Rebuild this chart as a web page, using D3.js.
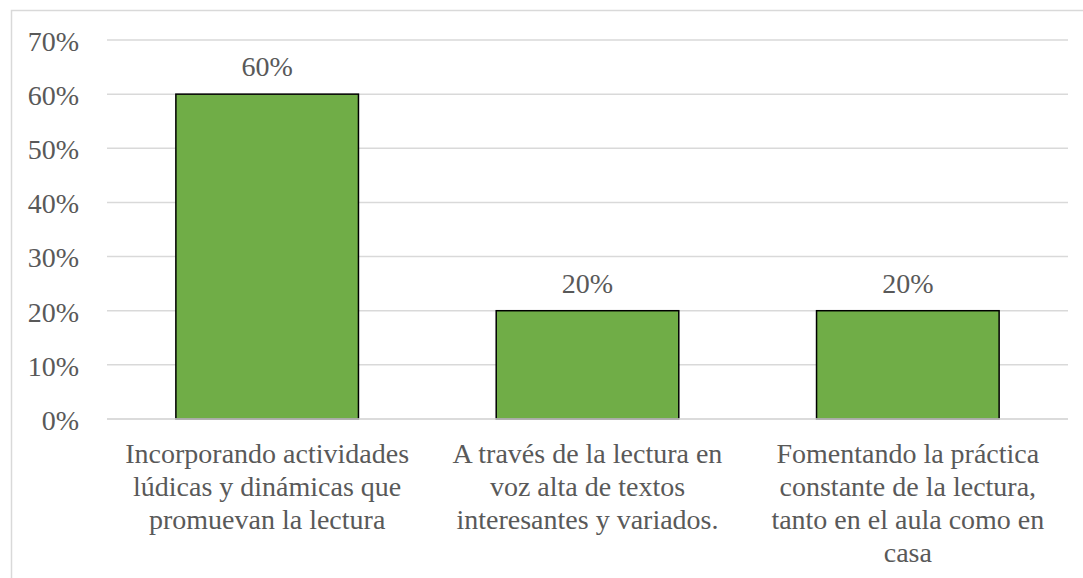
<!DOCTYPE html>
<html>
<head>
<meta charset="utf-8">
<script src="https://cdn.jsdelivr.net/npm/d3@7"></script>
</head>
<body style="margin:0">
<script>
// ----- data -----
var categories = [
  ["Incorporando actividades", "lúdicas y dinámicas que", "promuevan la lectura"],
  ["A través de la lectura en", "voz alta de textos", "interesantes y variados."],
  ["Fomentando la práctica", "constante de la lectura,", "tanto en el aula como en", "casa"]
];
var values = [0.60, 0.20, 0.20];
var tickValues = [0, 0.1, 0.2, 0.3, 0.4, 0.5, 0.6, 0.7];

var width = 1083, height = 578;
var margin = {top: 40, left: 107, right: 15, bottom: 159};
var textColor = "#595959";
var fontSize = "28px";
var serif = "'Times New Roman'";

var svg = d3.select("body").append("svg")
  .attr("width", width)
  .attr("height", height);

// outer chart border (runs off the right and bottom edge)
svg.append("rect")
  .attr("x", 11.5).attr("y", 10.5)
  .attr("width", width + 20).attr("height", height + 20)
  .attr("fill", "none")
  .attr("stroke", "#d9d9d9")
  .attr("stroke-width", 1.5);

var x = d3.scaleBand()
  .domain(d3.range(values.length))
  .range([margin.left, width - margin.right])
  .paddingInner(0.43)
  .paddingOuter(0.215);

var y = d3.scaleLinear()
  .domain([0, 0.7])
  .range([height - margin.bottom, margin.top]);

// gridlines
svg.append("g")
  .selectAll("line")
  .data(tickValues)
  .join("line")
  .attr("x1", margin.left)
  .attr("x2", width - margin.right)
  .attr("y1", d => y(d))
  .attr("y2", d => y(d))
  .attr("stroke", "#d9d9d9")
  .attr("stroke-width", 1.5);

// y axis labels
var yAxis = d3.axisLeft(y)
  .tickValues(tickValues)
  .tickFormat(d3.format(".0%"))
  .tickSize(0)
  .tickPadding(28);

var yg = svg.append("g")
  .attr("transform", "translate(" + margin.left + ",0)")
  .call(yAxis);
yg.select(".domain").remove();
yg.attr("font-family", null).attr("font-size", null);
yg.selectAll("text")
  .style("font-family", serif)
  .attr("font-size", fontSize)
  .attr("fill", textColor)
  .attr("dy", "0.37em");

// bars
svg.append("g")
  .selectAll("rect")
  .data(values)
  .join("rect")
  .attr("x", (d, i) => x(i))
  .attr("y", d => y(d))
  .attr("width", x.bandwidth())
  .attr("height", d => y(0) - y(d))
  .attr("fill", "#70ad47")
  .attr("stroke", "#000000")
  .attr("stroke-width", 1.5);

// baseline redraw over bar bottoms
svg.append("line")
  .attr("x1", margin.left).attr("x2", width - margin.right)
  .attr("y1", y(0)).attr("y2", y(0))
  .attr("stroke", "#d9d9d9")
  .attr("stroke-width", 1.5);

// data labels
svg.selectAll("text.val")
  .data(values)
  .join("text")
  .attr("class", "val")
  .attr("x", (d, i) => x(i) + x.bandwidth() / 2)
  .attr("y", d => y(d) - 18)
  .attr("text-anchor", "middle")
  .style("font-family", serif)
  .attr("font-size", fontSize)
  .attr("fill", textColor)
  .text(d3.format(".0%"));

// category labels, one text per line
categories.forEach(function (lines, i) {
  svg.selectAll("text.cat" + i)
    .data(lines)
    .join("text")
    .attr("class", "cat" + i)
    .attr("x", x(i) + x.bandwidth() / 2)
    .attr("y", (d, j) => y(0) + 44 + j * 33)
    .attr("text-anchor", "middle")
    .style("font-family", serif)
    .attr("font-size", fontSize)
    .attr("fill", textColor)
    .text(d => d);
});
</script>
</body>
</html>
